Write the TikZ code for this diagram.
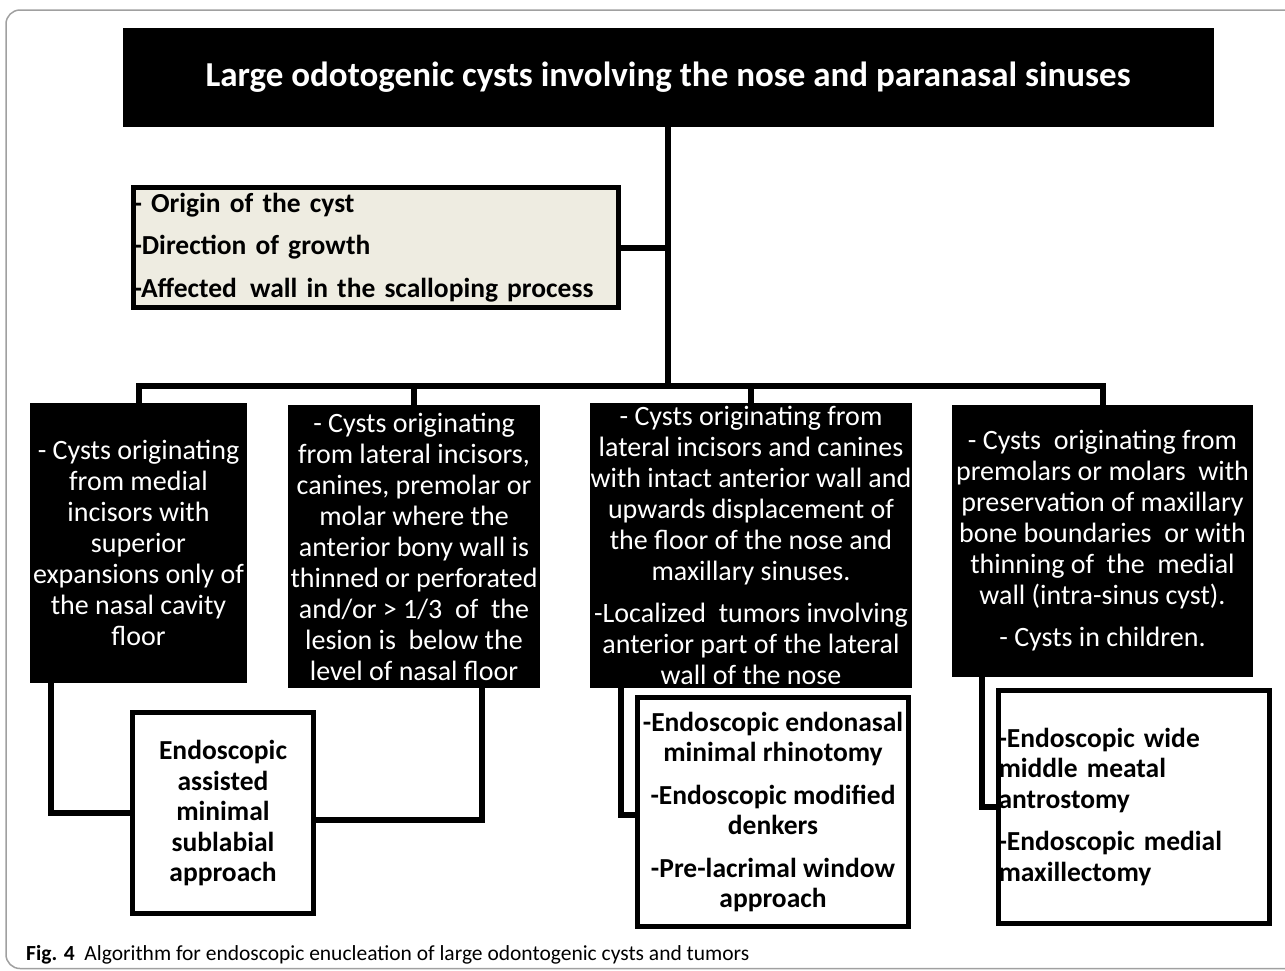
\documentclass[tikz,border=0pt]{standalone}
\usepackage{fontspec}
\setmainfont{Carlito}
\definecolor{askfill}{HTML}{EEECE1}
\definecolor{framegray}{HTML}{A0A0A0}
\begin{document}
\begin{tikzpicture}[x=1pt,y=-1pt,
  link/.style={line width=6pt},
  darkbox/.style={fill=black, text=white, inner sep=0pt, align=center, font=\fontsize{28}{31}\selectfont},
  whitebox/.style={draw=black, fill=white, line width=5pt, inner sep=0pt, font=\bfseries\fontsize{27.5}{30.5}\selectfont}]
\useasboundingbox (0,0) rectangle (1285,970);
\draw[framegray, line width=1.5pt, rounded corners=14pt] (1300,10)--(6,10)--(6,968.5)--(1300,968.5);
\node[fill=black, text=white, minimum width=1091, minimum height=99, font=\bfseries\fontsize{35}{40}\selectfont] (title) at (668,77.5) {Large odotogenic cysts involving the nose and paranasal sinuses};
\node[draw=black, fill=askfill, line width=5pt, inner xsep=0pt, text width=485, minimum height=120, align=left, font=\bfseries\fontsize{27.5}{42.5}\selectfont] (ask) at (376,247.5) {- Origin of the cyst\\-Direction of growth\\-Affected\hspace{4pt} wall in the scalloping process};
\coordinate (bus) at (668,386);
\node[darkbox, minimum width=217, minimum height=280] (c1) at (138.5,543) {- Cysts originating\\from medial\\incisors with\\superior\\expansions only of\\the nasal cavity\\floor};
\node[darkbox, minimum width=252, minimum height=283] (c2) at (414,546.5) {- Cysts originating\\from lateral incisors,\\canines, premolar or\\molar where the\\anterior bony wall is\\thinned or perforated\\and/or > 1/3~ of~ the\\lesion is~ below the\\level of nasal floor};
\node[darkbox, minimum width=322, minimum height=285] (c3) at (751,545.5) {- Cysts originating from\\lateral incisors and canines\\with intact anterior wall and\\upwards displacement of\\the floor of the nose and\\maxillary sinuses.\\[11pt]-Localized~ tumors involving\\anterior part of the lateral\\wall of the nose};
\node[darkbox, minimum width=301, minimum height=272] (c4) at (1102.5,541) {- Cysts~ originating from\\premolars or molars~ with\\preservation of maxillary\\bone boundaries~ or with\\thinning of~ the~ medial\\wall (intra-sinus cyst).\\[11pt]- Cysts in children.};
\node[whitebox, minimum width=181, minimum height=201, align=center] (s1) at (223,813) {Endoscopic\\assisted\\minimal\\sublabial\\approach};
\node[whitebox, minimum width=271, minimum height=229, align=center] (s2) at (773,812) {-Endoscopic endonasal\\minimal rhinotomy\\[12pt]-Endoscopic modified\\denkers\\[12pt]-Pre-lacrimal window\\approach};
\node[whitebox, text width=271, minimum height=233, align=left] (s3) at (1134,807) {-Endoscopic wide\\middle meatal\\antrostomy\\[12pt]-Endoscopic medial\\maxillectomy};
\draw[link] (title.south)--(bus);
\draw[link] (ask.east)--(ask.east -| bus);
\foreach \c in {c1,c2,c3,c4}
  \draw[link] (bus) -| (\c.north);
\draw[link] ([xshift=21pt]c1.south west) |- (s1.west);
\draw[link] ([xshift=-58pt]c2.south east) |- ([yshift=-7pt]s1.east);
\draw[link] ([xshift=31pt]c3.south west) |- ([yshift=-3pt]s2.west);
\draw[link] ([xshift=30pt]c4.south west) |- (s3.west);
\node[anchor=west, inner sep=0pt, font=\fontsize{21.5}{24}\selectfont] (cap) at (26,955) {\textbf{Fig. 4}~~Algorithm for endoscopic enucleation of large odontogenic cysts and tumors};
\end{tikzpicture}
\end{document}
